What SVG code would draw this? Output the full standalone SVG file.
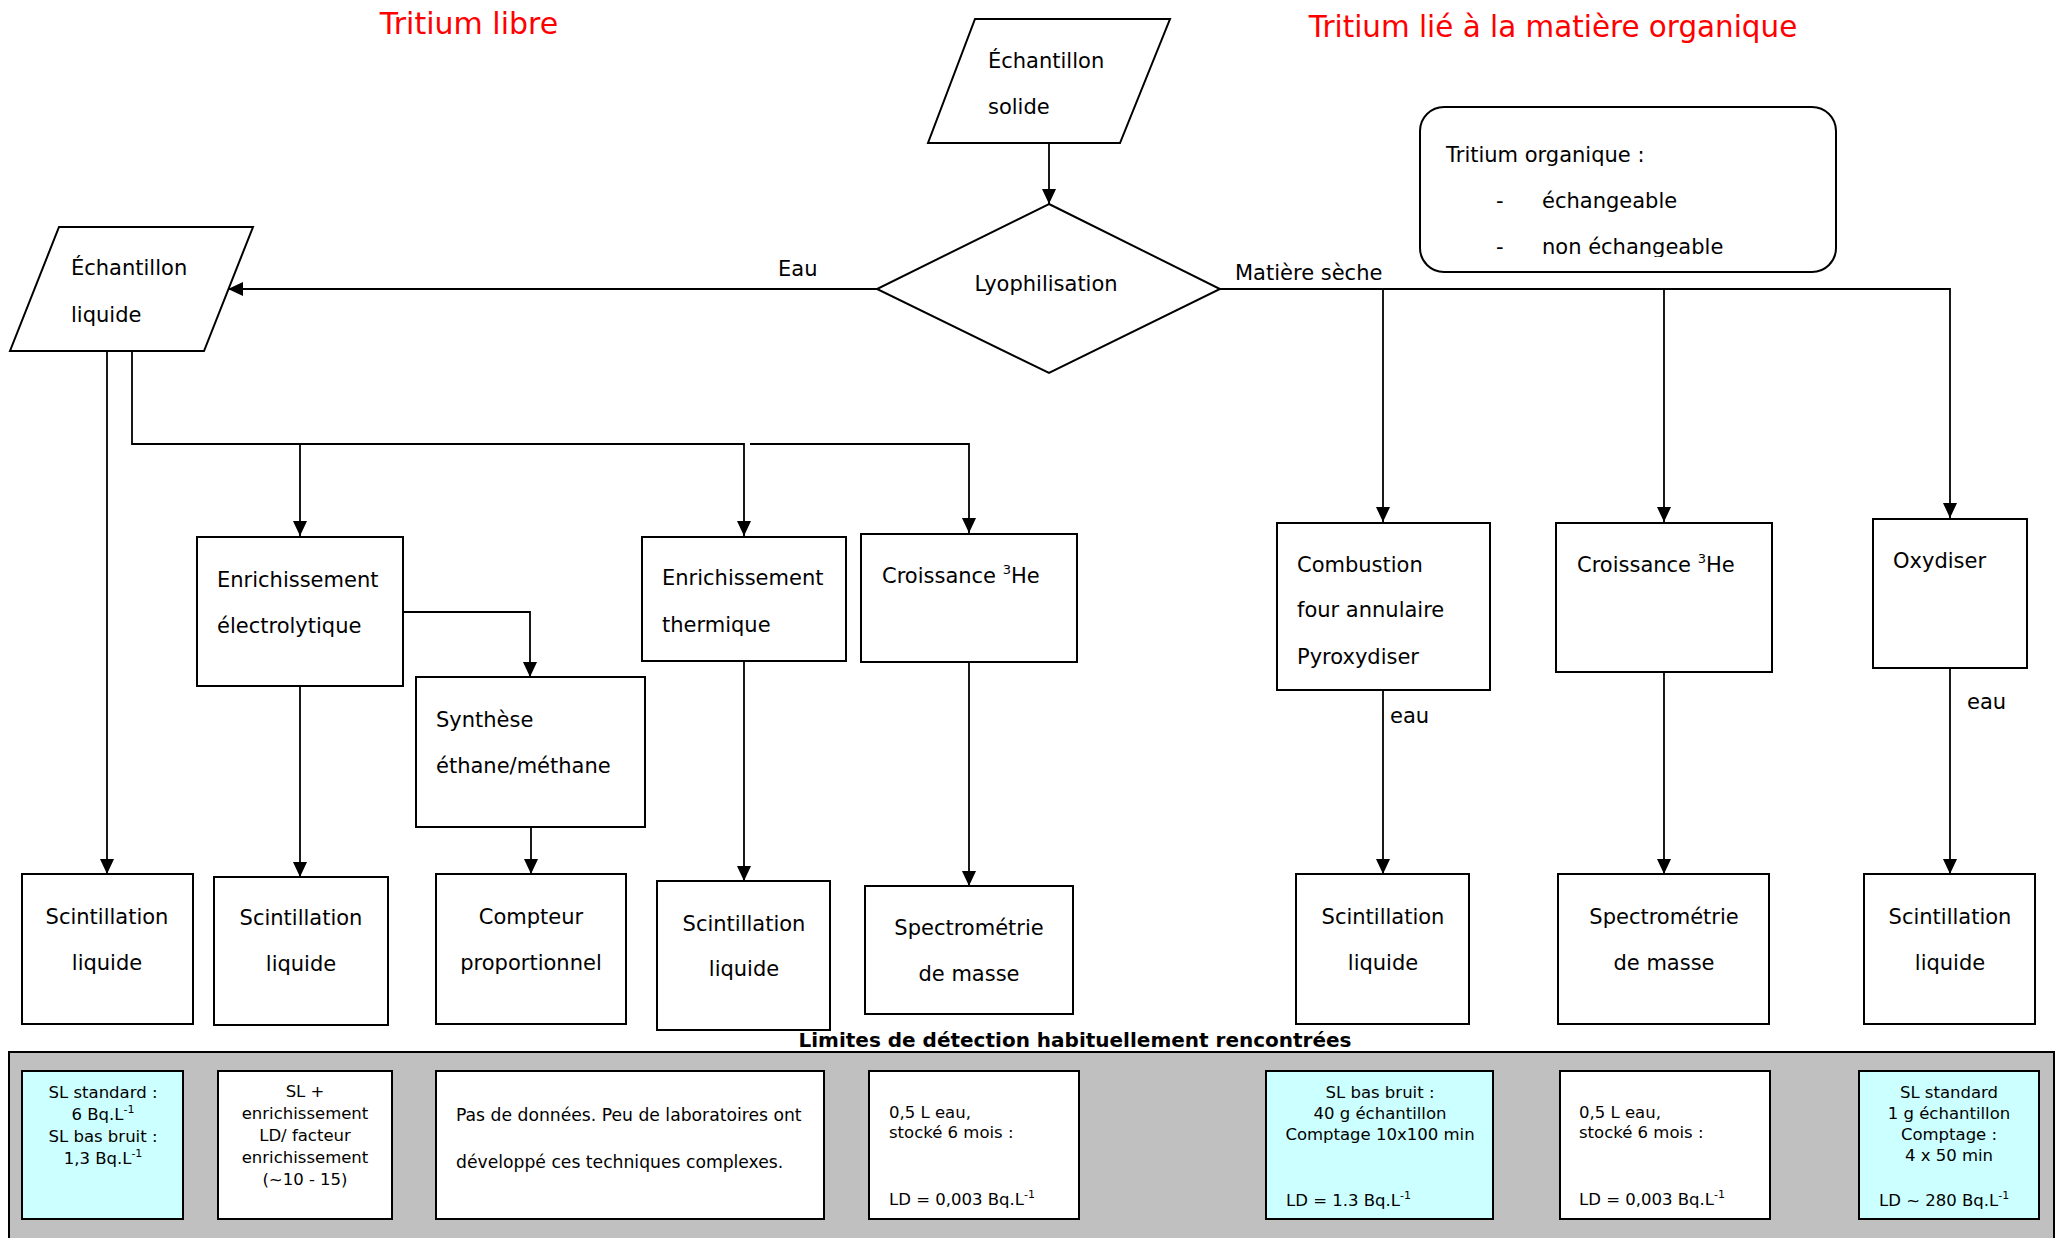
<svg xmlns="http://www.w3.org/2000/svg" width="2060" height="1238" viewBox="0 0 2060 1238">
<defs>
<style>
text{font-family:"DejaVu Sans",Verdana,sans-serif;fill:#000}
.t{font-size:21px}
.s{font-size:16.5px}
.red{fill:#ff0000;font-size:30px}
.b{font-weight:bold;font-size:20px}
.box{fill:#fff;stroke:#000;stroke-width:2}
.cy{fill:#ccffff;stroke:#000;stroke-width:2}
.c{fill:none;stroke:#000;stroke-width:1.8}
</style>
<marker id="ah" markerWidth="15" markerHeight="14" refX="15" refY="7" orient="auto" markerUnits="userSpaceOnUse"><path d="M0,0 L15,7 L0,14 z" fill="#000"/></marker>
<clipPath id="clipOrg"><rect x="1420" y="100" width="420" height="157"/></clipPath>
<clipPath id="clipE"><rect x="1266" y="1071" width="227" height="138"/></clipPath>
<clipPath id="clipG"><rect x="1859" y="1071" width="180" height="138"/></clipPath>
</defs>
<rect width="2060" height="1238" fill="#fff"/>

<text class="red" x="469" y="34" text-anchor="middle">Tritium libre</text>
<text class="red" style="font-size:29.4px" x="1553" y="37" text-anchor="middle">Tritium lié à la matière organique</text>

<g id="connectors">
<path class="c" d="M1049,143 V204" marker-end="url(#ah)"/>
<path class="c" d="M877,289 H228" marker-end="url(#ah)"/>
<path class="c" d="M1220,289 H1950 V518" marker-end="url(#ah)"/>
<path class="c" d="M1383,289 V522" marker-end="url(#ah)"/>
<path class="c" d="M1664,289 V522" marker-end="url(#ah)"/>
<path class="c" d="M107,351 V874" marker-end="url(#ah)"/>
<path class="c" d="M132,351 V444 H744 V536" marker-end="url(#ah)"/>
<path class="c" d="M300,444 V536" marker-end="url(#ah)"/>
<path class="c" d="M750,444 H969 V533" marker-end="url(#ah)"/>
<path class="c" d="M300,686 V877" marker-end="url(#ah)"/>
<path class="c" d="M403,612 H530 V677" marker-end="url(#ah)"/>
<path class="c" d="M531,827 V874" marker-end="url(#ah)"/>
<path class="c" d="M744,661 V881" marker-end="url(#ah)"/>
<path class="c" d="M969,662 V886" marker-end="url(#ah)"/>
<path class="c" d="M1383,690 V874" marker-end="url(#ah)"/>
<path class="c" d="M1664,672 V874" marker-end="url(#ah)"/>
<path class="c" d="M1950,668 V874" marker-end="url(#ah)"/>
<text class="t" x="778" y="276">Eau</text>
<text class="t" x="1235" y="280">Matière sèche</text>
<text class="t" x="1390" y="723">eau</text>
<text class="t" x="1967" y="709">eau</text>
</g>

<g id="echantillon-solide">
<polygon class="box" points="975,19 1170,19 1120,143 928,143"/>
<text class="t" x="988" y="68">Échantillon</text>
<text class="t" x="988" y="114">solide</text>
</g>

<g id="lyophilisation">
<polygon class="box" points="1049,204 1220,289 1049,373 877,289"/>
<text class="t" x="1046" y="291" text-anchor="middle">Lyophilisation</text>
</g>

<g id="echantillon-liquide">
<polygon class="box" points="59,227 253,227 204,351 10,351"/>
<text class="t" x="71" y="275">Échantillon</text>
<text class="t" x="71" y="322">liquide</text>
</g>

<g id="tritium-organique">
<rect class="box" x="1420" y="107" width="416" height="165" rx="24" ry="24"/>
<text class="t" x="1446" y="162">Tritium organique :</text>
<text class="t" x="1496" y="208">-</text>
<text class="t" x="1542" y="208">échangeable</text>
<g clip-path="url(#clipOrg)">
<text class="t" x="1496" y="254">-</text>
<text class="t" x="1542" y="254">non échangeable</text>
</g>
</g>

<g id="enrichissement-electrolytique">
<rect class="box" x="197" y="537" width="206" height="149"/>
<text class="t" x="217" y="587">Enrichissement</text>
<text class="t" x="217" y="633">électrolytique</text>
</g>

<g id="synthese">
<rect class="box" x="416" y="677" width="229" height="150"/>
<text class="t" x="436" y="727">Synthèse</text>
<text class="t" x="436" y="773">éthane/méthane</text>
</g>

<g id="enrichissement-thermique">
<rect class="box" x="642" y="537" width="204" height="124"/>
<text class="t" x="662" y="585">Enrichissement</text>
<text class="t" x="662" y="632">thermique</text>
</g>

<g id="croissance-he-1">
<rect class="box" x="861" y="534" width="216" height="128"/>
<text class="t" x="882" y="583">Croissance <tspan font-size="13" dy="-9">3</tspan><tspan dy="9">He</tspan></text>
</g>

<g id="combustion">
<rect class="box" x="1277" y="523" width="213" height="167"/>
<text class="t" x="1297" y="572">Combustion</text>
<text class="t" x="1297" y="617">four annulaire</text>
<text class="t" x="1297" y="664">Pyroxydiser</text>
</g>

<g id="croissance-he-2">
<rect class="box" x="1556" y="523" width="216" height="149"/>
<text class="t" x="1577" y="572">Croissance <tspan font-size="13" dy="-9">3</tspan><tspan dy="9">He</tspan></text>
</g>

<g id="oxydiser">
<rect class="box" x="1873" y="519" width="154" height="149"/>
<text class="t" x="1893" y="568">Oxydiser</text>
</g>

<g id="scintillation-1">
<rect class="box" x="22" y="874" width="171" height="150"/>
<text class="t" x="107" y="924" text-anchor="middle">Scintillation</text>
<text class="t" x="107" y="970" text-anchor="middle">liquide</text>
</g>
<g id="scintillation-2">
<rect class="box" x="214" y="877" width="174" height="148"/>
<text class="t" x="301" y="925" text-anchor="middle">Scintillation</text>
<text class="t" x="301" y="971" text-anchor="middle">liquide</text>
</g>
<g id="compteur">
<rect class="box" x="436" y="874" width="190" height="150"/>
<text class="t" x="531" y="924" text-anchor="middle">Compteur</text>
<text class="t" x="531" y="970" text-anchor="middle">proportionnel</text>
</g>
<g id="scintillation-3">
<rect class="box" x="657" y="881" width="173" height="149"/>
<text class="t" x="744" y="931" text-anchor="middle">Scintillation</text>
<text class="t" x="744" y="976" text-anchor="middle">liquide</text>
</g>
<g id="spectrometrie-1">
<rect class="box" x="865" y="886" width="208" height="128"/>
<text class="t" x="969" y="935" text-anchor="middle">Spectrométrie</text>
<text class="t" x="969" y="981" text-anchor="middle">de masse</text>
</g>
<g id="scintillation-4">
<rect class="box" x="1296" y="874" width="173" height="150"/>
<text class="t" x="1383" y="924" text-anchor="middle">Scintillation</text>
<text class="t" x="1383" y="970" text-anchor="middle">liquide</text>
</g>
<g id="spectrometrie-2">
<rect class="box" x="1558" y="874" width="211" height="150"/>
<text class="t" x="1664" y="924" text-anchor="middle">Spectrométrie</text>
<text class="t" x="1664" y="970" text-anchor="middle">de masse</text>
</g>
<g id="scintillation-5">
<rect class="box" x="1864" y="874" width="171" height="150"/>
<text class="t" x="1950" y="924" text-anchor="middle">Scintillation</text>
<text class="t" x="1950" y="970" text-anchor="middle">liquide</text>
</g>

<g id="limites">
<rect x="9" y="1052" width="2045" height="200" fill="#c0c0c0" stroke="#000" stroke-width="2"/>
<text class="b" x="1075" y="1047" text-anchor="middle">Limites de détection habituellement rencontrées</text>

<g id="ld-a">
<rect class="cy" x="22" y="1071" width="161" height="148"/>
<text class="s" text-anchor="middle" x="103" y="1098">SL standard :</text>
<text class="s" text-anchor="middle" x="103" y="1120">6 Bq.L<tspan font-size="11" dy="-7">-1</tspan></text>
<text class="s" text-anchor="middle" x="103" y="1142">SL bas bruit :</text>
<text class="s" text-anchor="middle" x="103" y="1164">1,3 Bq.L<tspan font-size="11" dy="-7">-1</tspan></text>
</g>
<g id="ld-b">
<rect class="box" x="218" y="1071" width="174" height="148"/>
<text class="s" text-anchor="middle" x="305" y="1097">SL +</text>
<text class="s" text-anchor="middle" x="305" y="1119">enrichissement</text>
<text class="s" text-anchor="middle" x="305" y="1141">LD/ facteur</text>
<text class="s" text-anchor="middle" x="305" y="1163">enrichissement</text>
<text class="s" text-anchor="middle" x="305" y="1185">(~10 - 15)</text>
</g>
<g id="ld-c">
<rect class="box" x="436" y="1071" width="388" height="148"/>
<text class="s" style="font-size:17.2px" x="456" y="1121">Pas de données. Peu de laboratoires ont</text>
<text class="s" style="font-size:17.2px" x="456" y="1168">développé ces techniques complexes.</text>
</g>
<g id="ld-d">
<rect class="box" x="869" y="1071" width="210" height="148"/>
<text class="s" x="889" y="1118">0,5 L eau,</text>
<text class="s" x="889" y="1138">stocké 6 mois :</text>
<text class="s" x="889" y="1205">LD = 0,003 Bq.L<tspan font-size="11" dy="-7">-1</tspan></text>
</g>
<g id="ld-e">
<rect class="cy" x="1266" y="1071" width="227" height="148"/>
<text class="s" text-anchor="middle" x="1380" y="1098">SL bas bruit :</text>
<text class="s" text-anchor="middle" x="1380" y="1119">40 g échantillon</text>
<text class="s" text-anchor="middle" x="1380" y="1140">Comptage 10x100 min</text>
<g clip-path="url(#clipE)"><text class="s" x="1286" y="1206">LD = 1.3 Bq.L<tspan font-size="11" dy="-7">-1</tspan></text></g>
</g>
<g id="ld-f">
<rect class="box" x="1560" y="1071" width="210" height="148"/>
<text class="s" x="1579" y="1118">0,5 L eau,</text>
<text class="s" x="1579" y="1138">stocké 6 mois :</text>
<text class="s" x="1579" y="1205">LD = 0,003 Bq.L<tspan font-size="11" dy="-7">-1</tspan></text>
</g>
<g id="ld-g">
<rect class="cy" x="1859" y="1071" width="180" height="148"/>
<text class="s" text-anchor="middle" x="1949" y="1098">SL standard</text>
<text class="s" text-anchor="middle" x="1949" y="1119">1 g échantillon</text>
<text class="s" text-anchor="middle" x="1949" y="1140">Comptage :</text>
<text class="s" text-anchor="middle" x="1949" y="1161">4 x 50 min</text>
<g clip-path="url(#clipG)"><text class="s" x="1879" y="1206">LD ~ 280 Bq.L<tspan font-size="11" dy="-7">-1</tspan></text></g>
</g>
</g>
</svg>
